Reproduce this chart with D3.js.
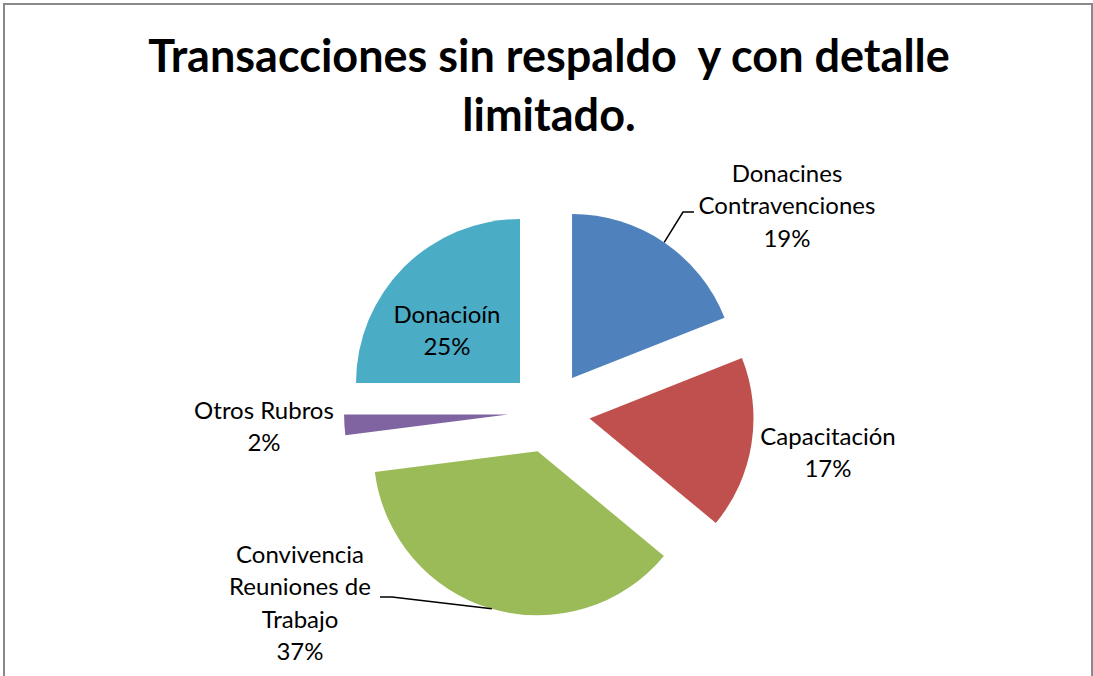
<!DOCTYPE html>
<html>
<head>
<meta charset="utf-8">
<script src="https://cdn.jsdelivr.net/npm/d3@7"></script>
<style>
  html, body { margin: 0; padding: 0; background: #fff; }
  svg { display: block; }
  text { font-family: Lato, "Open Sans", sans-serif; fill: #000; }
</style>
</head>
<body>
<svg id="chart" width="1093" height="676"></svg>
<script>
// Chart data
const categories = ["Donacines Contravenciones", "Capacitación", "Convivencia Reuniones de Trabajo", "Otros Rubros", "Donacioín"];
const values = [19, 17, 37, 2, 25];
const labelLines = [
  ["Donacines", "Contravenciones"],
  ["Capacitación"],
  ["Convivencia", "Reuniones de", "Trabajo"],
  ["Otros Rubros"],
  ["Donacioín"]
];
const titleLines = ["Transacciones sin respaldo  y con detalle", "limitado."];

// Layout
const W = 1093, H = 676;
const center = [549, 412];
const radius = 164;
const explode = 41;
const colors = ["#4F81BD", "#C0504D", "#9BBB59", "#8064A2", "#4BACC6"];
const labelFont = 24, labelLineH = 32.3;

// Label anchors: centre x and first baseline y; leader elbow points (if any)
const labelLayout = [
  { x: 787, y: 182, leader: [[683, 212], [694, 212]] },
  { x: 828, y: 445 },
  { x: 300, y: 563, leader: [[392, 597], [380, 597]] },
  { x: 264, y: 419 },
  { x: 447, y: 323 }
];

const svg = d3.select("#chart");

// Outer frame
svg.append("rect")
  .attr("x", 4).attr("y", 4)
  .attr("width", 1088).attr("height", 700)
  .attr("fill", "none").attr("stroke", "#898989").attr("stroke-width", 2);

// Title
svg.append("g").selectAll("text")
  .data(titleLines)
  .join("text")
  .attr("x", 549)
  .attr("y", (d, i) => 72 + i * 59)
  .attr("text-anchor", "middle")
  .attr("font-size", 45)
  .attr("font-weight", "bold")
  .style("white-space", "pre")
  .text(d => d);

// Pie
const pie = d3.pie().sort(null).value(d => d);
const arcs = pie(values);
const arc = d3.arc().innerRadius(0).outerRadius(radius);

const offset = a => {
  const m = (a.startAngle + a.endAngle) / 2;
  return [center[0] + explode * Math.sin(m), center[1] - explode * Math.cos(m)];
};

svg.append("g").selectAll("path")
  .data(arcs)
  .join("path")
  .attr("transform", d => `translate(${offset(d)})`)
  .attr("d", arc)
  .attr("fill", (d, i) => colors[i]);

// Leader lines from the arc midpoint to the label elbow
const lead = svg.append("g");
arcs.forEach((a, i) => {
  const L = labelLayout[i];
  if (!L.leader) return;
  const o = offset(a);
  const m = (a.startAngle + a.endAngle) / 2;
  const start = [o[0] + radius * Math.sin(m), o[1] - radius * Math.cos(m)];
  lead.append("path")
    .attr("d", d3.line()([start, ...L.leader]))
    .attr("fill", "none")
    .attr("stroke", "#000")
    .attr("stroke-width", 1.5);
});

// Data labels: category lines then percentage
const lab = svg.append("g");
arcs.forEach((a, i) => {
  const L = labelLayout[i];
  const lines = [...labelLines[i], values[i] + "%"];
  const t = lab.append("text")
    .attr("text-anchor", "middle")
    .attr("font-size", labelFont);
  lines.forEach((s, k) => {
    t.append("tspan")
      .attr("x", L.x)
      .attr("y", L.y + k * labelLineH)
      .text(s);
  });
});
</script>
</body>
</html>
